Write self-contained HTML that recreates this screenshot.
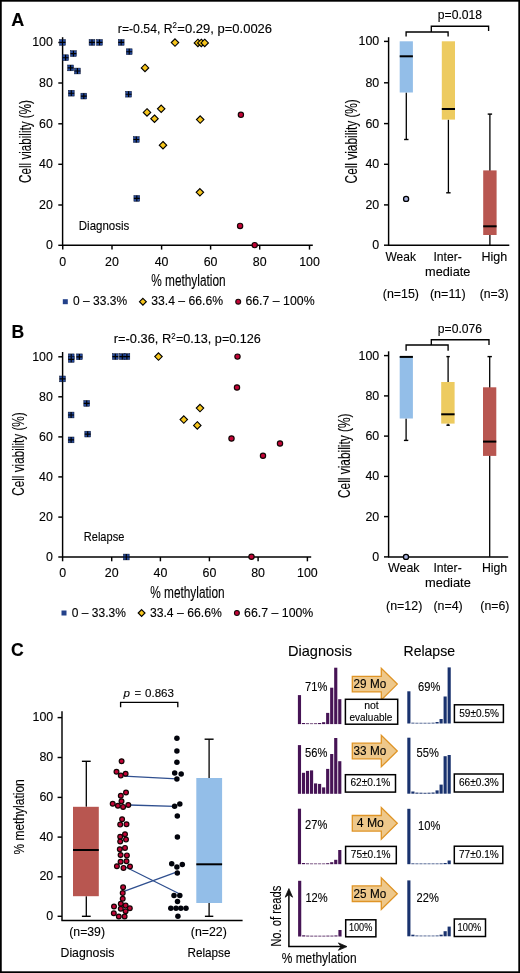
<!DOCTYPE html>
<html><head><meta charset="utf-8"><style>
html,body{margin:0;padding:0;background:#fff;}
svg{display:block;will-change:transform;}
text{font-family:"Liberation Sans",sans-serif;stroke:#000;stroke-width:0.12px;}
</style></head><body>
<svg width="520" height="973" viewBox="0 0 520 973" fill="#000">
<rect width="520" height="973" fill="#fff"/>
<rect x="0.85" y="0.8" width="518.35" height="971.4" fill="none" stroke="#000" stroke-width="1.8"/>
<text x="11.20" y="25.60" font-size="18.0" font-weight="bold" fill="#000">A</text>
<line x1="62.60" y1="37.20" x2="62.60" y2="245.30" stroke="#000" stroke-width="1.45"/>
<line x1="62.00" y1="245.30" x2="312.80" y2="245.30" stroke="#000" stroke-width="1.45"/>
<line x1="58.30" y1="42.50" x2="62.60" y2="42.50" stroke="#000" stroke-width="1.45"/>
<text x="52.90" y="46.30" font-size="12.4" text-anchor="end">100</text>
<line x1="58.30" y1="83.00" x2="62.60" y2="83.00" stroke="#000" stroke-width="1.45"/>
<text x="52.90" y="86.80" font-size="12.4" text-anchor="end">80</text>
<line x1="58.30" y1="123.80" x2="62.60" y2="123.80" stroke="#000" stroke-width="1.45"/>
<text x="52.90" y="127.60" font-size="12.4" text-anchor="end">60</text>
<line x1="58.30" y1="164.30" x2="62.60" y2="164.30" stroke="#000" stroke-width="1.45"/>
<text x="52.90" y="168.10" font-size="12.4" text-anchor="end">40</text>
<line x1="58.30" y1="205.00" x2="62.60" y2="205.00" stroke="#000" stroke-width="1.45"/>
<text x="52.90" y="208.80" font-size="12.4" text-anchor="end">20</text>
<line x1="58.30" y1="245.30" x2="62.60" y2="245.30" stroke="#000" stroke-width="1.45"/>
<text x="52.90" y="249.10" font-size="12.4" text-anchor="end">0</text>
<line x1="62.75" y1="245.30" x2="62.75" y2="249.60" stroke="#000" stroke-width="1.45"/>
<text x="62.75" y="265.80" font-size="12.4" text-anchor="middle">0</text>
<line x1="112.00" y1="245.30" x2="112.00" y2="249.60" stroke="#000" stroke-width="1.45"/>
<text x="112.00" y="265.80" font-size="12.4" text-anchor="middle">20</text>
<line x1="161.60" y1="245.30" x2="161.60" y2="249.60" stroke="#000" stroke-width="1.45"/>
<text x="161.60" y="265.80" font-size="12.4" text-anchor="middle">40</text>
<line x1="210.60" y1="245.30" x2="210.60" y2="249.60" stroke="#000" stroke-width="1.45"/>
<text x="210.60" y="265.80" font-size="12.4" text-anchor="middle">60</text>
<line x1="259.70" y1="245.30" x2="259.70" y2="249.60" stroke="#000" stroke-width="1.45"/>
<text x="259.70" y="265.80" font-size="12.4" text-anchor="middle">80</text>
<line x1="309.50" y1="245.30" x2="309.50" y2="249.60" stroke="#000" stroke-width="1.45"/>
<text x="309.50" y="265.80" font-size="12.4" text-anchor="middle">100</text>
<text transform="translate(30.90,182.90) rotate(-90)" font-size="16" textLength="82.80" lengthAdjust="spacingAndGlyphs">Cell viability (%)</text>
<text x="151.20" y="285.90" font-size="15.8" textLength="74.40" lengthAdjust="spacingAndGlyphs">% methylation</text>
<text x="117.80" y="32.80" font-size="12.4" textLength="54.80" lengthAdjust="spacingAndGlyphs">r=-0.54, R</text>
<text x="172.50" y="28.30" font-size="8.8" textLength="4.40" lengthAdjust="spacingAndGlyphs">2</text>
<text x="177.30" y="32.80" font-size="12.4" textLength="94.80" lengthAdjust="spacingAndGlyphs">=0.29, p=0.0026</text>
<text x="78.80" y="229.50" font-size="12.2" textLength="50.50" lengthAdjust="spacingAndGlyphs">Diagnosis</text>
<rect x="62.80" y="299.20" width="5" height="5" fill="#23418a"/>
<text x="73.10" y="305.10" font-size="12.5" textLength="54.00" lengthAdjust="spacingAndGlyphs">0 – 33.3%</text>
<path d="M142.90 298.30L146.30 301.70L142.90 305.10L139.50 301.70Z" fill="#f6c51c" stroke="#000" stroke-width="1.15"/>
<text x="151.20" y="305.10" font-size="12.5" textLength="71.90" lengthAdjust="spacingAndGlyphs">33.4 – 66.6%</text>
<circle cx="238.20" cy="301.70" r="2.45" fill="#c20436" stroke="#140606" stroke-width="1.1"/>
<text x="245.40" y="305.10" font-size="12.5" textLength="69.20" lengthAdjust="spacingAndGlyphs">66.7 – 100%</text>
<rect x="59.60" y="39.50" width="5.8" height="5.8" fill="#24489a" stroke="#0a1530" stroke-width="0.5"/>
<path d="M59.60 42.40H65.40M62.50 39.50V45.30" stroke="#000" stroke-width="1.15"/>
<rect x="62.70" y="54.80" width="5.8" height="5.8" fill="#24489a" stroke="#0a1530" stroke-width="0.5"/>
<path d="M62.70 57.70H68.50M65.60 54.80V60.60" stroke="#000" stroke-width="1.15"/>
<rect x="70.50" y="50.70" width="5.8" height="5.8" fill="#24489a" stroke="#0a1530" stroke-width="0.5"/>
<path d="M70.50 53.60H76.30M73.40 50.70V56.50" stroke="#000" stroke-width="1.15"/>
<rect x="67.70" y="65.00" width="5.8" height="5.8" fill="#24489a" stroke="#0a1530" stroke-width="0.5"/>
<path d="M67.70 67.90H73.50M70.60 65.00V70.80" stroke="#000" stroke-width="1.15"/>
<rect x="74.50" y="68.10" width="5.8" height="5.8" fill="#24489a" stroke="#0a1530" stroke-width="0.5"/>
<path d="M74.50 71.00H80.30M77.40 68.10V73.90" stroke="#000" stroke-width="1.15"/>
<rect x="89.10" y="39.50" width="5.8" height="5.8" fill="#24489a" stroke="#0a1530" stroke-width="0.5"/>
<path d="M89.10 42.40H94.90M92.00 39.50V45.30" stroke="#000" stroke-width="1.15"/>
<rect x="96.60" y="39.50" width="5.8" height="5.8" fill="#24489a" stroke="#0a1530" stroke-width="0.5"/>
<path d="M96.60 42.40H102.40M99.50 39.50V45.30" stroke="#000" stroke-width="1.15"/>
<rect x="118.30" y="39.50" width="5.8" height="5.8" fill="#24489a" stroke="#0a1530" stroke-width="0.5"/>
<path d="M118.30 42.40H124.10M121.20 39.50V45.30" stroke="#000" stroke-width="1.15"/>
<rect x="126.30" y="48.80" width="5.8" height="5.8" fill="#24489a" stroke="#0a1530" stroke-width="0.5"/>
<path d="M126.30 51.70H132.10M129.20 48.80V54.60" stroke="#000" stroke-width="1.15"/>
<rect x="68.40" y="90.30" width="5.8" height="5.8" fill="#24489a" stroke="#0a1530" stroke-width="0.5"/>
<path d="M68.40 93.20H74.20M71.30 90.30V96.10" stroke="#000" stroke-width="1.15"/>
<rect x="80.90" y="93.20" width="5.8" height="5.8" fill="#24489a" stroke="#0a1530" stroke-width="0.5"/>
<path d="M80.90 96.10H86.70M83.80 93.20V99.00" stroke="#000" stroke-width="1.15"/>
<rect x="125.70" y="91.30" width="5.8" height="5.8" fill="#24489a" stroke="#0a1530" stroke-width="0.5"/>
<path d="M125.70 94.20H131.50M128.60 91.30V97.10" stroke="#000" stroke-width="1.15"/>
<rect x="133.40" y="136.60" width="5.8" height="5.8" fill="#24489a" stroke="#0a1530" stroke-width="0.5"/>
<path d="M133.40 139.50H139.20M136.30 136.60V142.40" stroke="#000" stroke-width="1.15"/>
<rect x="133.90" y="195.50" width="5.8" height="5.8" fill="#24489a" stroke="#0a1530" stroke-width="0.5"/>
<path d="M133.90 198.40H139.70M136.80 195.50V201.30" stroke="#000" stroke-width="1.15"/>
<path d="M145.00 64.20L148.70 67.90L145.00 71.60L141.30 67.90Z" fill="#f6c51c" stroke="#000" stroke-width="1.15"/>
<path d="M175.00 38.90L178.70 42.60L175.00 46.30L171.30 42.60Z" fill="#f6c51c" stroke="#000" stroke-width="1.15"/>
<path d="M197.90 39.20L201.60 42.90L197.90 46.60L194.20 42.90Z" fill="#f6c51c" stroke="#000" stroke-width="1.15"/>
<path d="M201.30 39.20L205.00 42.90L201.30 46.60L197.60 42.90Z" fill="#f6c51c" stroke="#000" stroke-width="1.15"/>
<path d="M204.70 39.20L208.40 42.90L204.70 46.60L201.00 42.90Z" fill="#f6c51c" stroke="#000" stroke-width="1.15"/>
<path d="M147.00 108.70L150.70 112.40L147.00 116.10L143.30 112.40Z" fill="#f6c51c" stroke="#000" stroke-width="1.15"/>
<path d="M161.20 105.10L164.90 108.80L161.20 112.50L157.50 108.80Z" fill="#f6c51c" stroke="#000" stroke-width="1.15"/>
<path d="M154.50 115.00L158.20 118.70L154.50 122.40L150.80 118.70Z" fill="#f6c51c" stroke="#000" stroke-width="1.15"/>
<path d="M163.00 141.50L166.70 145.20L163.00 148.90L159.30 145.20Z" fill="#f6c51c" stroke="#000" stroke-width="1.15"/>
<path d="M200.20 115.90L203.90 119.60L200.20 123.30L196.50 119.60Z" fill="#f6c51c" stroke="#000" stroke-width="1.15"/>
<path d="M199.90 188.60L203.60 192.30L199.90 196.00L196.20 192.30Z" fill="#f6c51c" stroke="#000" stroke-width="1.15"/>
<circle cx="240.90" cy="114.80" r="2.65" fill="#c20436" stroke="#140606" stroke-width="1.15"/>
<circle cx="240.10" cy="225.90" r="2.65" fill="#c20436" stroke="#140606" stroke-width="1.15"/>
<circle cx="254.70" cy="245.10" r="2.65" fill="#c20436" stroke="#140606" stroke-width="1.15"/>
<line x1="388.60" y1="37.20" x2="388.60" y2="245.20" stroke="#000" stroke-width="1.45"/>
<line x1="388.00" y1="245.20" x2="509.30" y2="245.20" stroke="#000" stroke-width="1.45"/>
<line x1="384.00" y1="41.40" x2="388.60" y2="41.40" stroke="#000" stroke-width="1.45"/>
<text x="379.20" y="45.30" font-size="12.4" text-anchor="end">100</text>
<line x1="384.00" y1="82.80" x2="388.60" y2="82.80" stroke="#000" stroke-width="1.45"/>
<text x="379.20" y="86.70" font-size="12.4" text-anchor="end">80</text>
<line x1="384.00" y1="123.60" x2="388.60" y2="123.60" stroke="#000" stroke-width="1.45"/>
<text x="379.20" y="127.50" font-size="12.4" text-anchor="end">60</text>
<line x1="384.00" y1="164.30" x2="388.60" y2="164.30" stroke="#000" stroke-width="1.45"/>
<text x="379.20" y="168.20" font-size="12.4" text-anchor="end">40</text>
<line x1="384.00" y1="204.90" x2="388.60" y2="204.90" stroke="#000" stroke-width="1.45"/>
<text x="379.20" y="208.80" font-size="12.4" text-anchor="end">20</text>
<line x1="384.00" y1="245.20" x2="388.60" y2="245.20" stroke="#000" stroke-width="1.45"/>
<text x="379.20" y="249.10" font-size="12.4" text-anchor="end">0</text>
<text transform="translate(356.70,183.40) rotate(-90)" font-size="16" textLength="84.20" lengthAdjust="spacingAndGlyphs">Cell viability (%)</text>
<line x1="406.30" y1="92.50" x2="406.30" y2="139.50" stroke="#000" stroke-width="1.3"/>
<line x1="404.10" y1="139.50" x2="408.50" y2="139.50" stroke="#000" stroke-width="1.4"/>
<rect x="399.70" y="41.30" width="13.20" height="51.20" fill="#93bee8"/>
<line x1="399.70" y1="56.30" x2="412.90" y2="56.30" stroke="#000" stroke-width="2.0"/>
<line x1="448.40" y1="119.60" x2="448.40" y2="192.80" stroke="#000" stroke-width="1.3"/>
<line x1="446.20" y1="192.80" x2="450.60" y2="192.80" stroke="#000" stroke-width="1.4"/>
<rect x="441.80" y="41.30" width="13.20" height="78.30" fill="#edcb60"/>
<line x1="441.80" y1="109.00" x2="455.00" y2="109.00" stroke="#000" stroke-width="2.0"/>
<line x1="489.90" y1="114.10" x2="489.90" y2="245.20" stroke="#000" stroke-width="1.3"/>
<line x1="487.70" y1="114.10" x2="492.10" y2="114.10" stroke="#000" stroke-width="1.4"/>
<rect x="483.20" y="170.40" width="13.40" height="64.60" fill="#b85650"/>
<line x1="483.20" y1="226.30" x2="496.60" y2="226.30" stroke="#000" stroke-width="2.0"/>
<circle cx="406.1" cy="198.9" r="2.55" fill="#a9b3de" stroke="#000" stroke-width="1.3"/>
<path d="M406.1 36.4V32H448.1V36.4M431.3 32V26.2H488.6V31" stroke="#000" stroke-width="1.35" fill="none"/>
<text x="437.80" y="19.40" font-size="12.4" textLength="44.20" lengthAdjust="spacingAndGlyphs">p=0.018</text>
<text x="385.40" y="260.60" font-size="12.4" textLength="30.50" lengthAdjust="spacingAndGlyphs">Weak</text>
<text x="433.50" y="260.60" font-size="12.4" textLength="28.30" lengthAdjust="spacingAndGlyphs">Inter-</text>
<text x="425.00" y="275.80" font-size="12.4" textLength="45.40" lengthAdjust="spacingAndGlyphs">mediate</text>
<text x="481.50" y="260.60" font-size="12.4" textLength="25.70" lengthAdjust="spacingAndGlyphs">High</text>
<text x="382.80" y="298.30" font-size="12.4" textLength="36.20" lengthAdjust="spacingAndGlyphs">(n=15)</text>
<text x="429.90" y="298.30" font-size="12.4" textLength="35.70" lengthAdjust="spacingAndGlyphs">(n=11)</text>
<text x="479.70" y="298.30" font-size="12.4" textLength="28.90" lengthAdjust="spacingAndGlyphs">(n=3)</text>
<text x="11.40" y="337.60" font-size="17.6" font-weight="bold" fill="#000">B</text>
<line x1="62.60" y1="352.00" x2="62.60" y2="557.00" stroke="#000" stroke-width="1.45"/>
<line x1="62.00" y1="557.00" x2="311.20" y2="557.00" stroke="#000" stroke-width="1.45"/>
<line x1="58.30" y1="356.80" x2="62.60" y2="356.80" stroke="#000" stroke-width="1.45"/>
<text x="52.90" y="360.60" font-size="12.4" text-anchor="end">100</text>
<line x1="58.30" y1="396.80" x2="62.60" y2="396.80" stroke="#000" stroke-width="1.45"/>
<text x="52.90" y="400.60" font-size="12.4" text-anchor="end">80</text>
<line x1="58.30" y1="436.90" x2="62.60" y2="436.90" stroke="#000" stroke-width="1.45"/>
<text x="52.90" y="440.70" font-size="12.4" text-anchor="end">60</text>
<line x1="58.30" y1="476.90" x2="62.60" y2="476.90" stroke="#000" stroke-width="1.45"/>
<text x="52.90" y="480.70" font-size="12.4" text-anchor="end">40</text>
<line x1="58.30" y1="517.10" x2="62.60" y2="517.10" stroke="#000" stroke-width="1.45"/>
<text x="52.90" y="520.90" font-size="12.4" text-anchor="end">20</text>
<line x1="58.30" y1="557.00" x2="62.60" y2="557.00" stroke="#000" stroke-width="1.45"/>
<text x="52.90" y="560.80" font-size="12.4" text-anchor="end">0</text>
<line x1="62.60" y1="557.00" x2="62.60" y2="561.30" stroke="#000" stroke-width="1.45"/>
<text x="62.60" y="576.80" font-size="12.4" text-anchor="middle">0</text>
<line x1="111.70" y1="557.00" x2="111.70" y2="561.30" stroke="#000" stroke-width="1.45"/>
<text x="111.70" y="576.80" font-size="12.4" text-anchor="middle">20</text>
<line x1="160.40" y1="557.00" x2="160.40" y2="561.30" stroke="#000" stroke-width="1.45"/>
<text x="160.40" y="576.80" font-size="12.4" text-anchor="middle">40</text>
<line x1="209.40" y1="557.00" x2="209.40" y2="561.30" stroke="#000" stroke-width="1.45"/>
<text x="209.40" y="576.80" font-size="12.4" text-anchor="middle">60</text>
<line x1="258.10" y1="557.00" x2="258.10" y2="561.30" stroke="#000" stroke-width="1.45"/>
<text x="258.10" y="576.80" font-size="12.4" text-anchor="middle">80</text>
<line x1="307.40" y1="557.00" x2="307.40" y2="561.30" stroke="#000" stroke-width="1.45"/>
<text x="307.40" y="576.80" font-size="12.4" text-anchor="middle">100</text>
<text transform="translate(23.70,495.80) rotate(-90)" font-size="16" textLength="83.50" lengthAdjust="spacingAndGlyphs">Cell viability (%)</text>
<text x="150.20" y="597.60" font-size="15.8" textLength="74.40" lengthAdjust="spacingAndGlyphs">% methylation</text>
<text x="113.80" y="343.30" font-size="12.4" textLength="57.40" lengthAdjust="spacingAndGlyphs">r=-0.36, R</text>
<text x="171.30" y="338.70" font-size="8.8" textLength="4.40" lengthAdjust="spacingAndGlyphs">2</text>
<text x="175.90" y="343.30" font-size="12.4" textLength="85.00" lengthAdjust="spacingAndGlyphs">=0.13, p=0.126</text>
<text x="83.80" y="541.30" font-size="12.2" textLength="40.50" lengthAdjust="spacingAndGlyphs">Relapse</text>
<rect x="61.50" y="610.50" width="5" height="5" fill="#23418a"/>
<text x="71.80" y="616.60" font-size="12.5" textLength="54.00" lengthAdjust="spacingAndGlyphs">0 – 33.3%</text>
<path d="M141.60 609.60L145.00 613.00L141.60 616.40L138.20 613.00Z" fill="#f6c51c" stroke="#000" stroke-width="1.15"/>
<text x="149.90" y="616.60" font-size="12.5" textLength="71.90" lengthAdjust="spacingAndGlyphs">33.4 – 66.6%</text>
<circle cx="236.90" cy="613.00" r="2.45" fill="#c20436" stroke="#140606" stroke-width="1.1"/>
<text x="244.10" y="616.60" font-size="12.5" textLength="69.20" lengthAdjust="spacingAndGlyphs">66.7 – 100%</text>
<rect x="59.60" y="376.00" width="5.8" height="5.8" fill="#24489a" stroke="#0a1530" stroke-width="0.5"/>
<path d="M59.60 378.90H65.40M62.50 376.00V381.80" stroke="#000" stroke-width="1.15"/>
<rect x="68.30" y="353.90" width="5.8" height="5.8" fill="#24489a" stroke="#0a1530" stroke-width="0.5"/>
<path d="M68.30 356.80H74.10M71.20 353.90V359.70" stroke="#000" stroke-width="1.15"/>
<rect x="68.30" y="356.50" width="5.8" height="5.8" fill="#24489a" stroke="#0a1530" stroke-width="0.5"/>
<path d="M68.30 359.40H74.10M71.20 356.50V362.30" stroke="#000" stroke-width="1.15"/>
<rect x="76.50" y="353.90" width="5.8" height="5.8" fill="#24489a" stroke="#0a1530" stroke-width="0.5"/>
<path d="M76.50 356.80H82.30M79.40 353.90V359.70" stroke="#000" stroke-width="1.15"/>
<rect x="112.40" y="353.70" width="5.8" height="5.8" fill="#24489a" stroke="#0a1530" stroke-width="0.5"/>
<path d="M112.40 356.60H118.20M115.30 353.70V359.50" stroke="#000" stroke-width="1.15"/>
<rect x="119.40" y="353.70" width="5.8" height="5.8" fill="#24489a" stroke="#0a1530" stroke-width="0.5"/>
<path d="M119.40 356.60H125.20M122.30 353.70V359.50" stroke="#000" stroke-width="1.15"/>
<rect x="124.00" y="353.70" width="5.8" height="5.8" fill="#24489a" stroke="#0a1530" stroke-width="0.5"/>
<path d="M124.00 356.60H129.80M126.90 353.70V359.50" stroke="#000" stroke-width="1.15"/>
<rect x="83.80" y="400.50" width="5.8" height="5.8" fill="#24489a" stroke="#0a1530" stroke-width="0.5"/>
<path d="M83.80 403.40H89.60M86.70 400.50V406.30" stroke="#000" stroke-width="1.15"/>
<rect x="68.20" y="412.10" width="5.8" height="5.8" fill="#24489a" stroke="#0a1530" stroke-width="0.5"/>
<path d="M68.20 415.00H74.00M71.10 412.10V417.90" stroke="#000" stroke-width="1.15"/>
<rect x="84.80" y="431.20" width="5.8" height="5.8" fill="#24489a" stroke="#0a1530" stroke-width="0.5"/>
<path d="M84.80 434.10H90.60M87.70 431.20V437.00" stroke="#000" stroke-width="1.15"/>
<rect x="68.20" y="437.00" width="5.8" height="5.8" fill="#24489a" stroke="#0a1530" stroke-width="0.5"/>
<path d="M68.20 439.90H74.00M71.10 437.00V442.80" stroke="#000" stroke-width="1.15"/>
<rect x="123.40" y="554.10" width="5.8" height="5.8" fill="#24489a" stroke="#0a1530" stroke-width="0.5"/>
<path d="M123.40 557.00H129.20M126.30 554.10V559.90" stroke="#000" stroke-width="1.15"/>
<path d="M158.50 352.90L162.20 356.60L158.50 360.30L154.80 356.60Z" fill="#f6c51c" stroke="#000" stroke-width="1.15"/>
<path d="M200.00 404.40L203.70 408.10L200.00 411.80L196.30 408.10Z" fill="#f6c51c" stroke="#000" stroke-width="1.15"/>
<path d="M183.80 415.90L187.50 419.60L183.80 423.30L180.10 419.60Z" fill="#f6c51c" stroke="#000" stroke-width="1.15"/>
<path d="M197.30 421.70L201.00 425.40L197.30 429.10L193.60 425.40Z" fill="#f6c51c" stroke="#000" stroke-width="1.15"/>
<circle cx="237.50" cy="356.60" r="2.65" fill="#c20436" stroke="#140606" stroke-width="1.15"/>
<circle cx="237.00" cy="387.50" r="2.65" fill="#c20436" stroke="#140606" stroke-width="1.15"/>
<circle cx="231.50" cy="438.50" r="2.65" fill="#c20436" stroke="#140606" stroke-width="1.15"/>
<circle cx="280.00" cy="443.50" r="2.65" fill="#c20436" stroke="#140606" stroke-width="1.15"/>
<circle cx="263.00" cy="455.80" r="2.65" fill="#c20436" stroke="#140606" stroke-width="1.15"/>
<circle cx="251.50" cy="556.80" r="2.65" fill="#c20436" stroke="#140606" stroke-width="1.15"/>
<line x1="388.60" y1="351.30" x2="388.60" y2="556.90" stroke="#000" stroke-width="1.45"/>
<line x1="388.00" y1="556.90" x2="508.20" y2="556.90" stroke="#000" stroke-width="1.45"/>
<line x1="384.00" y1="355.60" x2="388.60" y2="355.60" stroke="#000" stroke-width="1.45"/>
<text x="379.20" y="359.50" font-size="12.4" text-anchor="end">100</text>
<line x1="384.00" y1="395.90" x2="388.60" y2="395.90" stroke="#000" stroke-width="1.45"/>
<text x="379.20" y="399.80" font-size="12.4" text-anchor="end">80</text>
<line x1="384.00" y1="436.10" x2="388.60" y2="436.10" stroke="#000" stroke-width="1.45"/>
<text x="379.20" y="440.00" font-size="12.4" text-anchor="end">60</text>
<line x1="384.00" y1="476.40" x2="388.60" y2="476.40" stroke="#000" stroke-width="1.45"/>
<text x="379.20" y="480.30" font-size="12.4" text-anchor="end">40</text>
<line x1="384.00" y1="516.60" x2="388.60" y2="516.60" stroke="#000" stroke-width="1.45"/>
<text x="379.20" y="520.50" font-size="12.4" text-anchor="end">20</text>
<line x1="384.00" y1="556.90" x2="388.60" y2="556.90" stroke="#000" stroke-width="1.45"/>
<text x="379.20" y="560.80" font-size="12.4" text-anchor="end">0</text>
<text transform="translate(350.40,498.00) rotate(-90)" font-size="16" textLength="84.40" lengthAdjust="spacingAndGlyphs">Cell viability (%)</text>
<line x1="406.10" y1="418.50" x2="406.10" y2="440.40" stroke="#000" stroke-width="1.3"/>
<line x1="403.90" y1="440.40" x2="408.30" y2="440.40" stroke="#000" stroke-width="1.4"/>
<rect x="399.70" y="356.10" width="13.20" height="62.40" fill="#93bee8"/>
<line x1="399.70" y1="356.90" x2="412.90" y2="356.90" stroke="#000" stroke-width="2.0"/>
<line x1="448.10" y1="356.20" x2="448.10" y2="382.00" stroke="#000" stroke-width="1.3"/>
<line x1="446.40" y1="356.60" x2="449.80" y2="356.60" stroke="#000" stroke-width="1.4"/>
<line x1="448.10" y1="423.60" x2="448.10" y2="425.60" stroke="#000" stroke-width="1.3"/>
<line x1="446.40" y1="425.20" x2="449.80" y2="425.20" stroke="#000" stroke-width="1.4"/>
<rect x="441.20" y="382.00" width="13.40" height="41.60" fill="#edcb60"/>
<line x1="441.20" y1="414.30" x2="454.60" y2="414.30" stroke="#000" stroke-width="2.0"/>
<line x1="489.70" y1="356.60" x2="489.70" y2="556.80" stroke="#000" stroke-width="1.3"/>
<line x1="487.50" y1="356.60" x2="491.90" y2="356.60" stroke="#000" stroke-width="1.4"/>
<rect x="483.00" y="387.30" width="13.30" height="68.60" fill="#b85650"/>
<line x1="483.00" y1="441.60" x2="496.30" y2="441.60" stroke="#000" stroke-width="2.0"/>
<circle cx="406.0" cy="556.9" r="2.55" fill="#a9b3de" stroke="#000" stroke-width="1.3"/>
<path d="M406.1 350.8V345H448.1V350.8M431.3 345V339.7H489V345" stroke="#000" stroke-width="1.35" fill="none"/>
<text x="437.80" y="333.10" font-size="12.4" textLength="44.20" lengthAdjust="spacingAndGlyphs">p=0.076</text>
<text x="388.00" y="572.00" font-size="12.4" textLength="31.60" lengthAdjust="spacingAndGlyphs">Weak</text>
<text x="433.40" y="572.00" font-size="12.4" textLength="28.30" lengthAdjust="spacingAndGlyphs">Inter-</text>
<text x="425.00" y="587.20" font-size="12.4" textLength="45.80" lengthAdjust="spacingAndGlyphs">mediate</text>
<text x="481.90" y="572.00" font-size="12.4" textLength="25.30" lengthAdjust="spacingAndGlyphs">High</text>
<text x="386.00" y="609.80" font-size="12.4" textLength="36.30" lengthAdjust="spacingAndGlyphs">(n=12)</text>
<text x="433.40" y="609.80" font-size="12.4" textLength="29.30" lengthAdjust="spacingAndGlyphs">(n=4)</text>
<text x="480.30" y="609.80" font-size="12.4" textLength="29.10" lengthAdjust="spacingAndGlyphs">(n=6)</text>
<text x="10.90" y="656.40" font-size="17.6" font-weight="bold" fill="#000">C</text>
<line x1="62.00" y1="711.30" x2="62.00" y2="920.40" stroke="#000" stroke-width="1.45"/>
<line x1="61.40" y1="920.40" x2="242.60" y2="920.40" stroke="#000" stroke-width="1.45"/>
<line x1="57.60" y1="717.60" x2="62.00" y2="717.60" stroke="#000" stroke-width="1.45"/>
<text x="53.20" y="721.00" font-size="12.4" text-anchor="end">100</text>
<line x1="57.60" y1="757.50" x2="62.00" y2="757.50" stroke="#000" stroke-width="1.45"/>
<text x="53.20" y="760.90" font-size="12.4" text-anchor="end">80</text>
<line x1="57.60" y1="797.40" x2="62.00" y2="797.40" stroke="#000" stroke-width="1.45"/>
<text x="53.20" y="800.80" font-size="12.4" text-anchor="end">60</text>
<line x1="57.60" y1="837.10" x2="62.00" y2="837.10" stroke="#000" stroke-width="1.45"/>
<text x="53.20" y="840.50" font-size="12.4" text-anchor="end">40</text>
<line x1="57.60" y1="876.80" x2="62.00" y2="876.80" stroke="#000" stroke-width="1.45"/>
<text x="53.20" y="880.20" font-size="12.4" text-anchor="end">20</text>
<line x1="57.60" y1="916.30" x2="62.00" y2="916.30" stroke="#000" stroke-width="1.45"/>
<text x="53.20" y="919.70" font-size="12.4" text-anchor="end">0</text>
<text transform="translate(23.60,854.50) rotate(-90)" font-size="15" textLength="75.20" lengthAdjust="spacingAndGlyphs">% methylation</text>
<line x1="86.30" y1="761.30" x2="86.30" y2="806.80" stroke="#000" stroke-width="1.3"/>
<line x1="81.90" y1="761.30" x2="90.70" y2="761.30" stroke="#000" stroke-width="1.4"/>
<line x1="86.30" y1="896.20" x2="86.30" y2="916.30" stroke="#000" stroke-width="1.3"/>
<line x1="81.90" y1="916.30" x2="90.70" y2="916.30" stroke="#000" stroke-width="1.4"/>
<rect x="73.00" y="806.80" width="25.80" height="89.40" fill="#b85650"/>
<line x1="73.00" y1="850.00" x2="98.80" y2="850.00" stroke="#000" stroke-width="2.0"/>
<line x1="209.10" y1="739.20" x2="209.10" y2="778.00" stroke="#000" stroke-width="1.3"/>
<line x1="204.60" y1="739.20" x2="213.60" y2="739.20" stroke="#000" stroke-width="1.4"/>
<line x1="209.10" y1="903.00" x2="209.10" y2="916.30" stroke="#000" stroke-width="1.3"/>
<line x1="204.90" y1="916.30" x2="213.30" y2="916.30" stroke="#000" stroke-width="1.4"/>
<rect x="196.30" y="778.00" width="25.80" height="125.00" fill="#93bee8"/>
<line x1="196.30" y1="864.30" x2="222.10" y2="864.30" stroke="#000" stroke-width="2.0"/>
<path d="M120.6 707.2V702.3H177.8V707.2" stroke="#000" stroke-width="1.35" fill="none"/>
<text x="123.60" y="696.90" font-size="11.6" font-style="italic">p</text>
<text x="134.60" y="696.90" font-size="11.2" fill="#555" textLength="6.60" lengthAdjust="spacingAndGlyphs">=</text>
<text x="145.00" y="696.90" font-size="11.4" textLength="29.00" lengthAdjust="spacingAndGlyphs">0.863</text>
<line x1="124.00" y1="776.20" x2="176.90" y2="778.90" stroke="#2f4f8f" stroke-width="1.3"/>
<line x1="128.80" y1="805.00" x2="175.00" y2="806.30" stroke="#2f4f8f" stroke-width="1.3"/>
<line x1="124.60" y1="866.50" x2="178.80" y2="893.50" stroke="#2f4f8f" stroke-width="1.3"/>
<line x1="124.60" y1="891.20" x2="175.00" y2="872.70" stroke="#2f4f8f" stroke-width="1.3"/>
<circle cx="121.60" cy="761.20" r="2.4" fill="#c20436" stroke="#140606" stroke-width="1.2"/>
<circle cx="116.50" cy="771.70" r="2.4" fill="#c20436" stroke="#140606" stroke-width="1.2"/>
<circle cx="125.60" cy="773.70" r="2.4" fill="#c20436" stroke="#140606" stroke-width="1.2"/>
<circle cx="120.80" cy="775.60" r="2.4" fill="#c20436" stroke="#140606" stroke-width="1.2"/>
<circle cx="126.00" cy="792.50" r="2.4" fill="#c20436" stroke="#140606" stroke-width="1.2"/>
<circle cx="120.80" cy="795.80" r="2.4" fill="#c20436" stroke="#140606" stroke-width="1.2"/>
<circle cx="121.50" cy="801.20" r="2.4" fill="#c20436" stroke="#140606" stroke-width="1.2"/>
<circle cx="112.70" cy="803.80" r="2.4" fill="#c20436" stroke="#140606" stroke-width="1.2"/>
<circle cx="128.30" cy="805.00" r="2.4" fill="#c20436" stroke="#140606" stroke-width="1.2"/>
<circle cx="117.90" cy="805.80" r="2.4" fill="#c20436" stroke="#140606" stroke-width="1.2"/>
<circle cx="123.10" cy="806.90" r="2.4" fill="#c20436" stroke="#140606" stroke-width="1.2"/>
<circle cx="122.10" cy="819.20" r="2.4" fill="#c20436" stroke="#140606" stroke-width="1.2"/>
<circle cx="120.20" cy="824.60" r="2.4" fill="#c20436" stroke="#140606" stroke-width="1.2"/>
<circle cx="126.50" cy="824.20" r="2.4" fill="#c20436" stroke="#140606" stroke-width="1.2"/>
<circle cx="125.00" cy="834.20" r="2.4" fill="#c20436" stroke="#140606" stroke-width="1.2"/>
<circle cx="120.20" cy="836.70" r="2.4" fill="#c20436" stroke="#140606" stroke-width="1.2"/>
<circle cx="126.00" cy="839.60" r="2.4" fill="#c20436" stroke="#140606" stroke-width="1.2"/>
<circle cx="120.20" cy="841.50" r="2.4" fill="#c20436" stroke="#140606" stroke-width="1.2"/>
<circle cx="125.00" cy="847.90" r="2.4" fill="#c20436" stroke="#140606" stroke-width="1.2"/>
<circle cx="119.80" cy="849.20" r="2.4" fill="#c20436" stroke="#140606" stroke-width="1.2"/>
<circle cx="120.60" cy="855.00" r="2.4" fill="#c20436" stroke="#140606" stroke-width="1.2"/>
<circle cx="126.90" cy="855.40" r="2.4" fill="#c20436" stroke="#140606" stroke-width="1.2"/>
<circle cx="126.50" cy="861.20" r="2.4" fill="#c20436" stroke="#140606" stroke-width="1.2"/>
<circle cx="120.60" cy="861.70" r="2.4" fill="#c20436" stroke="#140606" stroke-width="1.2"/>
<circle cx="116.90" cy="866.20" r="2.4" fill="#c20436" stroke="#140606" stroke-width="1.2"/>
<circle cx="130.00" cy="866.50" r="2.4" fill="#c20436" stroke="#140606" stroke-width="1.2"/>
<circle cx="123.50" cy="867.90" r="2.4" fill="#c20436" stroke="#140606" stroke-width="1.2"/>
<circle cx="123.10" cy="887.30" r="2.4" fill="#c20436" stroke="#140606" stroke-width="1.2"/>
<circle cx="122.70" cy="893.10" r="2.4" fill="#c20436" stroke="#140606" stroke-width="1.2"/>
<circle cx="122.70" cy="898.70" r="2.4" fill="#c20436" stroke="#140606" stroke-width="1.2"/>
<circle cx="120.80" cy="903.70" r="2.4" fill="#c20436" stroke="#140606" stroke-width="1.2"/>
<circle cx="125.60" cy="905.60" r="2.4" fill="#c20436" stroke="#140606" stroke-width="1.2"/>
<circle cx="114.00" cy="906.50" r="2.4" fill="#c20436" stroke="#140606" stroke-width="1.2"/>
<circle cx="129.80" cy="908.30" r="2.4" fill="#c20436" stroke="#140606" stroke-width="1.2"/>
<circle cx="120.80" cy="908.80" r="2.4" fill="#c20436" stroke="#140606" stroke-width="1.2"/>
<circle cx="125.60" cy="911.30" r="2.4" fill="#c20436" stroke="#140606" stroke-width="1.2"/>
<circle cx="113.80" cy="913.30" r="2.4" fill="#c20436" stroke="#140606" stroke-width="1.2"/>
<circle cx="118.80" cy="916.50" r="2.4" fill="#c20436" stroke="#140606" stroke-width="1.2"/>
<circle cx="124.60" cy="916.50" r="2.4" fill="#c20436" stroke="#140606" stroke-width="1.2"/>
<circle cx="176.90" cy="738.30" r="2.75" fill="#02040c"/>
<circle cx="176.90" cy="750.90" r="2.75" fill="#02040c"/>
<circle cx="176.90" cy="762.20" r="2.75" fill="#02040c"/>
<circle cx="174.70" cy="772.90" r="2.75" fill="#02040c"/>
<circle cx="181.20" cy="773.90" r="2.75" fill="#02040c"/>
<circle cx="176.90" cy="779.10" r="2.75" fill="#02040c"/>
<circle cx="179.80" cy="804.00" r="2.75" fill="#02040c"/>
<circle cx="174.60" cy="806.30" r="2.75" fill="#02040c"/>
<circle cx="177.30" cy="816.00" r="2.75" fill="#02040c"/>
<circle cx="177.40" cy="837.10" r="2.75" fill="#02040c"/>
<circle cx="171.70" cy="863.70" r="2.75" fill="#02040c"/>
<circle cx="182.30" cy="864.60" r="2.75" fill="#02040c"/>
<circle cx="176.90" cy="866.90" r="2.75" fill="#02040c"/>
<circle cx="177.30" cy="872.90" r="2.75" fill="#02040c"/>
<circle cx="174.00" cy="895.40" r="2.75" fill="#02040c"/>
<circle cx="179.80" cy="895.40" r="2.75" fill="#02040c"/>
<circle cx="177.50" cy="901.50" r="2.75" fill="#02040c"/>
<circle cx="170.80" cy="908.30" r="2.75" fill="#02040c"/>
<circle cx="176.00" cy="908.30" r="2.75" fill="#02040c"/>
<circle cx="180.80" cy="908.30" r="2.75" fill="#02040c"/>
<circle cx="186.00" cy="908.30" r="2.75" fill="#02040c"/>
<circle cx="177.90" cy="916.20" r="2.75" fill="#02040c"/>
<text x="69.30" y="935.80" font-size="12.4" textLength="35.70" lengthAdjust="spacingAndGlyphs">(n=39)</text>
<text x="190.80" y="935.80" font-size="12.4" textLength="36.00" lengthAdjust="spacingAndGlyphs">(n=22)</text>
<text x="60.50" y="956.90" font-size="12.2" textLength="54.00" lengthAdjust="spacingAndGlyphs">Diagnosis</text>
<text x="187.50" y="956.90" font-size="12.2" textLength="43.00" lengthAdjust="spacingAndGlyphs">Relapse</text>
<text x="288.00" y="656.20" font-size="14.4" textLength="64.00" lengthAdjust="spacingAndGlyphs">Diagnosis</text>
<text x="403.50" y="656.20" font-size="14.4" textLength="51.50" lengthAdjust="spacingAndGlyphs">Relapse</text>
<rect x="297.90" y="695.10" width="3.15" height="29.00" fill="#461455"/>
<rect x="301.93" y="723.00" width="3.15" height="1.10" fill="#461455"/>
<rect x="305.96" y="723.30" width="3.15" height="0.80" fill="#461455"/>
<rect x="309.99" y="723.40" width="3.15" height="0.70" fill="#461455"/>
<rect x="314.02" y="723.30" width="3.15" height="0.80" fill="#461455"/>
<rect x="318.05" y="723.00" width="3.15" height="1.10" fill="#461455"/>
<rect x="322.08" y="722.20" width="3.15" height="1.90" fill="#461455"/>
<rect x="326.11" y="712.90" width="3.15" height="11.20" fill="#461455"/>
<rect x="330.14" y="687.70" width="3.15" height="36.40" fill="#461455"/>
<rect x="334.17" y="667.70" width="3.15" height="56.40" fill="#461455"/>
<rect x="338.20" y="699.20" width="3.15" height="24.90" fill="#461455"/>
<rect x="297.90" y="745.10" width="3.15" height="48.70" fill="#461455"/>
<rect x="301.93" y="772.80" width="3.15" height="21.00" fill="#461455"/>
<rect x="305.96" y="770.90" width="3.15" height="22.90" fill="#461455"/>
<rect x="309.99" y="770.40" width="3.15" height="23.40" fill="#461455"/>
<rect x="314.02" y="783.40" width="3.15" height="10.40" fill="#461455"/>
<rect x="318.05" y="783.90" width="3.15" height="9.90" fill="#461455"/>
<rect x="322.08" y="787.40" width="3.15" height="6.40" fill="#461455"/>
<rect x="326.11" y="768.90" width="3.15" height="24.90" fill="#461455"/>
<rect x="330.14" y="754.00" width="3.15" height="39.80" fill="#461455"/>
<rect x="334.17" y="738.00" width="3.15" height="55.80" fill="#461455"/>
<rect x="338.20" y="761.20" width="3.15" height="32.60" fill="#461455"/>
<rect x="297.90" y="808.70" width="3.15" height="55.50" fill="#461455"/>
<rect x="301.93" y="863.00" width="3.15" height="1.20" fill="#461455"/>
<rect x="305.96" y="863.40" width="3.15" height="0.80" fill="#461455"/>
<rect x="309.99" y="863.50" width="3.15" height="0.70" fill="#461455"/>
<rect x="314.02" y="863.50" width="3.15" height="0.70" fill="#461455"/>
<rect x="318.05" y="863.50" width="3.15" height="0.70" fill="#461455"/>
<rect x="322.08" y="863.50" width="3.15" height="0.70" fill="#461455"/>
<rect x="326.11" y="863.20" width="3.15" height="1.00" fill="#461455"/>
<rect x="330.14" y="862.20" width="3.15" height="2.00" fill="#461455"/>
<rect x="334.17" y="859.80" width="3.15" height="4.40" fill="#461455"/>
<rect x="338.20" y="850.00" width="3.15" height="14.20" fill="#461455"/>
<rect x="298.10" y="880.80" width="3.15" height="55.70" fill="#461455"/>
<rect x="302.13" y="935.30" width="3.15" height="1.20" fill="#461455"/>
<rect x="306.16" y="935.60" width="3.15" height="0.90" fill="#461455"/>
<rect x="310.19" y="935.70" width="3.15" height="0.80" fill="#461455"/>
<rect x="314.22" y="935.70" width="3.15" height="0.80" fill="#461455"/>
<rect x="318.25" y="935.70" width="3.15" height="0.80" fill="#461455"/>
<rect x="322.28" y="935.70" width="3.15" height="0.80" fill="#461455"/>
<rect x="326.31" y="935.60" width="3.15" height="0.90" fill="#461455"/>
<rect x="330.34" y="935.60" width="3.15" height="0.90" fill="#461455"/>
<rect x="334.37" y="935.40" width="3.15" height="1.10" fill="#461455"/>
<rect x="338.40" y="930.00" width="3.15" height="6.50" fill="#461455"/>
<rect x="407.30" y="691.30" width="3.15" height="32.20" fill="#19326e"/>
<rect x="411.33" y="722.70" width="3.15" height="0.80" fill="#19326e"/>
<rect x="415.36" y="722.80" width="3.15" height="0.70" fill="#19326e"/>
<rect x="419.39" y="722.80" width="3.15" height="0.70" fill="#19326e"/>
<rect x="423.42" y="722.80" width="3.15" height="0.70" fill="#19326e"/>
<rect x="427.45" y="722.80" width="3.15" height="0.70" fill="#19326e"/>
<rect x="431.48" y="722.70" width="3.15" height="0.80" fill="#19326e"/>
<rect x="435.51" y="722.00" width="3.15" height="1.50" fill="#19326e"/>
<rect x="439.54" y="719.00" width="3.15" height="4.50" fill="#19326e"/>
<rect x="443.57" y="696.50" width="3.15" height="27.00" fill="#19326e"/>
<rect x="447.60" y="667.40" width="3.15" height="56.10" fill="#19326e"/>
<rect x="407.30" y="737.70" width="3.15" height="56.00" fill="#19326e"/>
<rect x="411.33" y="791.50" width="3.15" height="2.20" fill="#19326e"/>
<rect x="415.36" y="792.60" width="3.15" height="1.10" fill="#19326e"/>
<rect x="419.39" y="792.70" width="3.15" height="1.00" fill="#19326e"/>
<rect x="423.42" y="792.80" width="3.15" height="0.90" fill="#19326e"/>
<rect x="427.45" y="792.70" width="3.15" height="1.00" fill="#19326e"/>
<rect x="431.48" y="792.50" width="3.15" height="1.20" fill="#19326e"/>
<rect x="435.51" y="790.40" width="3.15" height="3.30" fill="#19326e"/>
<rect x="439.54" y="784.60" width="3.15" height="9.10" fill="#19326e"/>
<rect x="443.57" y="756.20" width="3.15" height="37.50" fill="#19326e"/>
<rect x="447.60" y="755.00" width="3.15" height="38.70" fill="#19326e"/>
<rect x="407.30" y="808.80" width="3.15" height="55.40" fill="#19326e"/>
<rect x="411.33" y="863.40" width="3.15" height="0.80" fill="#19326e"/>
<rect x="415.36" y="863.50" width="3.15" height="0.70" fill="#19326e"/>
<rect x="419.39" y="863.50" width="3.15" height="0.70" fill="#19326e"/>
<rect x="423.42" y="863.50" width="3.15" height="0.70" fill="#19326e"/>
<rect x="427.45" y="863.50" width="3.15" height="0.70" fill="#19326e"/>
<rect x="431.48" y="863.50" width="3.15" height="0.70" fill="#19326e"/>
<rect x="435.51" y="863.50" width="3.15" height="0.70" fill="#19326e"/>
<rect x="439.54" y="863.40" width="3.15" height="0.80" fill="#19326e"/>
<rect x="443.57" y="863.00" width="3.15" height="1.20" fill="#19326e"/>
<rect x="447.60" y="860.50" width="3.15" height="3.70" fill="#19326e"/>
<rect x="407.30" y="880.40" width="3.15" height="55.90" fill="#19326e"/>
<rect x="411.33" y="934.70" width="3.15" height="1.60" fill="#19326e"/>
<rect x="415.36" y="935.50" width="3.15" height="0.80" fill="#19326e"/>
<rect x="419.39" y="935.60" width="3.15" height="0.70" fill="#19326e"/>
<rect x="423.42" y="935.60" width="3.15" height="0.70" fill="#19326e"/>
<rect x="427.45" y="935.60" width="3.15" height="0.70" fill="#19326e"/>
<rect x="431.48" y="935.60" width="3.15" height="0.70" fill="#19326e"/>
<rect x="435.51" y="935.50" width="3.15" height="0.80" fill="#19326e"/>
<rect x="439.54" y="934.70" width="3.15" height="1.60" fill="#19326e"/>
<rect x="443.57" y="931.20" width="3.15" height="5.10" fill="#19326e"/>
<rect x="447.60" y="926.60" width="3.15" height="9.70" fill="#19326e"/>
<text x="305.00" y="691.00" font-size="12.4" textLength="22.30" lengthAdjust="spacingAndGlyphs">71%</text>
<text x="305.10" y="757.00" font-size="12.4" textLength="22.30" lengthAdjust="spacingAndGlyphs">56%</text>
<text x="305.00" y="829.20" font-size="12.4" textLength="22.30" lengthAdjust="spacingAndGlyphs">27%</text>
<text x="305.40" y="901.80" font-size="12.4" textLength="22.30" lengthAdjust="spacingAndGlyphs">12%</text>
<text x="418.00" y="691.20" font-size="12.4" textLength="22.30" lengthAdjust="spacingAndGlyphs">69%</text>
<text x="416.60" y="757.00" font-size="12.4" textLength="22.30" lengthAdjust="spacingAndGlyphs">55%</text>
<text x="418.00" y="829.60" font-size="12.4" textLength="22.30" lengthAdjust="spacingAndGlyphs">10%</text>
<text x="416.60" y="901.70" font-size="12.4" textLength="22.30" lengthAdjust="spacingAndGlyphs">22%</text>
<path d="M352.3 676.30H381.3V668.30L397.3 684.10L381.3 699.90V691.90H352.3Z" fill="#eec88b" stroke="#df9426" stroke-width="1.3" stroke-linejoin="miter"/>
<text x="353.60" y="688.20" font-size="12.8" textLength="32.60" lengthAdjust="spacingAndGlyphs">29 Mo</text>
<path d="M352.3 743.20H381.3V735.20L397.3 751.00L381.3 766.80V758.80H352.3Z" fill="#eec88b" stroke="#df9426" stroke-width="1.3" stroke-linejoin="miter"/>
<text x="353.60" y="755.10" font-size="12.8" textLength="32.60" lengthAdjust="spacingAndGlyphs">33 Mo</text>
<path d="M352.3 815.50H381.3V807.50L397.3 823.30L381.3 839.10V831.10H352.3Z" fill="#eec88b" stroke="#df9426" stroke-width="1.3" stroke-linejoin="miter"/>
<text x="356.70" y="827.40" font-size="12.8" textLength="27.20" lengthAdjust="spacingAndGlyphs">4 Mo</text>
<path d="M352.3 885.90H381.3V877.90L397.3 893.70L381.3 909.50V901.50H352.3Z" fill="#eec88b" stroke="#df9426" stroke-width="1.3" stroke-linejoin="miter"/>
<text x="353.60" y="897.80" font-size="12.8" textLength="32.60" lengthAdjust="spacingAndGlyphs">25 Mo</text>
<rect x="345.40" y="699.30" width="52.30" height="24.90" fill="#fff" stroke="#000" stroke-width="1.5"/>
<text x="364.20" y="709.20" font-size="10.8" textLength="14.60" lengthAdjust="spacingAndGlyphs">not</text>
<text x="349.50" y="720.80" font-size="10.8" textLength="42.80" lengthAdjust="spacingAndGlyphs">evaluable</text>
<rect x="345.40" y="774.70" width="50.10" height="17.40" fill="#fff" stroke="#000" stroke-width="1.5"/>
<text x="350.40" y="786.30" font-size="10.8" textLength="40.00" lengthAdjust="spacingAndGlyphs">62±0.1%</text>
<rect x="345.60" y="846.40" width="50.70" height="17.20" fill="#fff" stroke="#000" stroke-width="1.5"/>
<text x="350.80" y="858.00" font-size="10.8" textLength="39.80" lengthAdjust="spacingAndGlyphs">75±0.1%</text>
<rect x="345.70" y="919.80" width="30.20" height="17.00" fill="#fff" stroke="#000" stroke-width="1.5"/>
<text x="348.90" y="931.10" font-size="10.8" textLength="23.40" lengthAdjust="spacingAndGlyphs">100%</text>
<rect x="454.40" y="704.80" width="49.00" height="17.60" fill="#fff" stroke="#000" stroke-width="1.5"/>
<text x="459.20" y="717.20" font-size="10.8" textLength="39.80" lengthAdjust="spacingAndGlyphs">59±0.5%</text>
<rect x="454.30" y="774.00" width="48.90" height="18.00" fill="#fff" stroke="#000" stroke-width="1.5"/>
<text x="459.00" y="785.70" font-size="10.8" textLength="39.80" lengthAdjust="spacingAndGlyphs">66±0.3%</text>
<rect x="454.30" y="846.20" width="48.50" height="17.30" fill="#fff" stroke="#000" stroke-width="1.5"/>
<text x="459.00" y="857.70" font-size="10.8" textLength="39.80" lengthAdjust="spacingAndGlyphs">77±0.1%</text>
<rect x="454.30" y="919.00" width="31.20" height="17.50" fill="#fff" stroke="#000" stroke-width="1.5"/>
<text x="457.60" y="930.70" font-size="10.8" textLength="23.80" lengthAdjust="spacingAndGlyphs">100%</text>
<line x1="288.90" y1="946.60" x2="288.90" y2="892.00" stroke="#000" stroke-width="1.5"/>
<path d="M288.9 888.6L292.6 897.2L288.9 894.6L285.2 897.2Z" fill="#111" stroke="#111" stroke-width="0.8" stroke-linejoin="miter"/>
<line x1="288.20" y1="946.60" x2="343.50" y2="946.60" stroke="#000" stroke-width="1.5"/>
<path d="M347.0 946.6L338.4 950.3L341.0 946.6L338.4 942.9Z" fill="#111" stroke="#111" stroke-width="0.8" stroke-linejoin="miter"/>
<text transform="translate(281.40,946.80) rotate(-90)" font-size="15" textLength="61.10" lengthAdjust="spacingAndGlyphs">No. of reads</text>
<text x="281.80" y="963.20" font-size="15" textLength="74.70" lengthAdjust="spacingAndGlyphs">% methylation</text>
</svg>
</body></html>
